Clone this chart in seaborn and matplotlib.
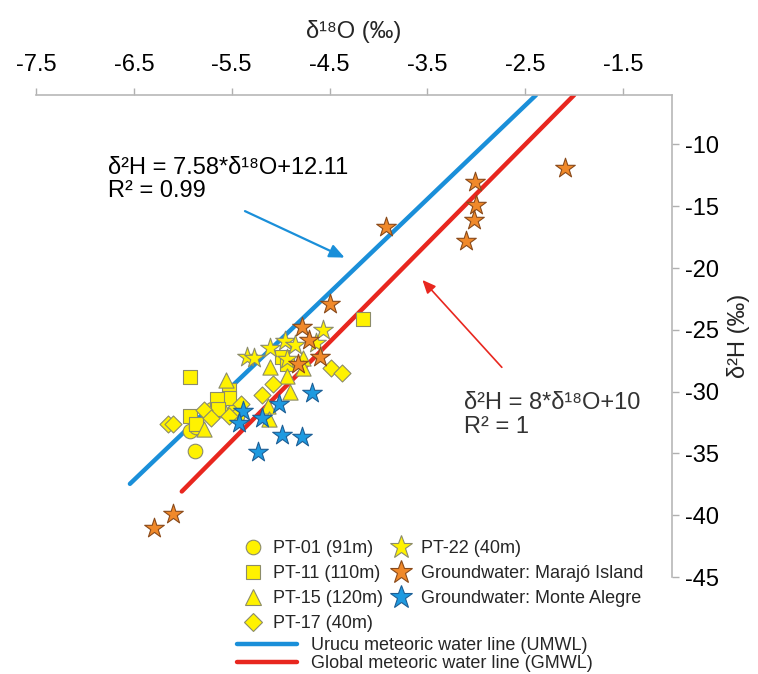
import numpy as np
import pandas as pd
import seaborn as sns
import matplotlib.pyplot as plt
from matplotlib.lines import Line2D

# --- data (delta18O, delta2H in permil) ---
pt01_x = [-5.88, -5.93, -5.86, -5.70, -5.62, -5.48, -5.45]
pt01_y = [-34.8, -33.2, -32.9, -31.4, -31.5, -31.6, -32.0]

pt11_x = [-4.16, -5.93, -4.99, -4.93, -5.53, -5.53, -5.65, -5.64, -5.93, -5.86]
pt11_y = [-24.1, -28.8, -27.2, -27.8, -29.9, -30.5, -30.6, -31.4, -32.0, -32.6]

pt15_x = [-5.56, -5.11, -4.77, -4.77, -4.93, -4.90, -5.13, -5.12, -5.78]
pt15_y = [-29.1, -28.0, -27.3, -28.1, -28.7, -30.0, -31.2, -32.2, -33.0]

pt17_x = [-4.49, -4.37, -5.08, -5.19, -5.78, -5.71, -6.15, -6.10, -5.53, -5.40]
pt17_y = [-28.1, -28.5, -29.4, -30.3, -31.5, -32.1, -32.6, -32.6, -32.0, -31.0]

pt22_x = [-4.57, -4.96, -5.11, -4.85, -4.64, -5.34, -5.27, -4.93]
pt22_y = [-25.0, -25.9, -26.5, -26.2, -26.1, -27.2, -27.3, -27.4]

marajo_x = [-2.09, -3.01, -3.00, -3.02, -3.11, -3.92, -4.50, -4.78, -4.71, -4.60, -4.82, -6.10, -6.29]
marajo_y = [-11.9, -13.0, -14.9, -16.1, -17.8, -16.7, -22.9, -24.8, -25.8, -27.2, -27.8, -39.9, -41.0]

monte_x = [-4.68, -5.02, -5.19, -5.38, -5.43, -4.99, -4.78, -5.23]
monte_y = [-30.1, -31.0, -32.1, -31.6, -32.5, -33.5, -33.7, -34.9]

# meteoric water lines: slope, intercept, x range drawn
umwl_coef = (7.58, 12.11)
umwl_range = [-6.54, -2.39]
gmwl_coef = (8.0, 10.0)
gmwl_range = [-6.01, -2.0]

groups = [
    # label, x, y, marker, size, face, edge
    ("PT-01 (91m)", pt01_x, pt01_y, "o", 110, "#FFF200", "#8c8c6a"),
    ("PT-11 (110m)", pt11_x, pt11_y, "s", 110, "#FFF200", "#8c8c6a"),
    ("PT-15 (120m)", pt15_x, pt15_y, "^", 120, "#FFF200", "#8c8c6a"),
    ("PT-17 (40m)", pt17_x, pt17_y, "D", 75, "#FFF200", "#8c8c6a"),
    ("PT-22 (40m)", pt22_x, pt22_y, "*", 220, "#FFF200", "#8c8c6a"),
    ("Groundwater: Marajó Island", marajo_x, marajo_y, "*", 220, "#F0892A", "#8a4a1a"),
    ("Groundwater: Monte Alegre", monte_x, monte_y, "*", 220, "#1E9AE0", "#1d5f96"),
]

sns.set_style("white")
plt.rcParams['font.family'] = ['Liberation Sans', 'DejaVu Sans']
plt.rcParams['axes.unicode_minus'] = False

fig = plt.figure(figsize=(7.58, 6.74), dpi=100)
ax = fig.add_axes([36 / 758, 1 - 577 / 674, 636 / 758, 482 / 674])

# lines
for coef, xr, col in [(umwl_coef, umwl_range, "#1A8FD9"), (gmwl_coef, gmwl_range, "#E8271F")]:
    lx = np.array(xr)
    line_df = pd.DataFrame({"x": lx, "y": coef[0] * lx + coef[1]})
    sns.lineplot(data=line_df, x="x", y="y", color=col, lw=3.2, ax=ax)

# points
for label, gx, gy, mk, sz, fc, ec in groups:
    df = pd.DataFrame({"x": gx, "y": gy})
    sns.scatterplot(data=df, x="x", y="y", marker=mk, s=sz, color=fc,
                    edgecolor=ec, linewidth=0.8, ax=ax, zorder=3)

ax.set_xlim(-7.5, -1.0)
ax.set_ylim(-45, -6)

ax.xaxis.tick_top()
ax.xaxis.set_label_position("top")
ax.yaxis.tick_right()
ax.yaxis.set_label_position("right")
ax.set_xticks(np.arange(-7.5, -1.4, 1.0))
ax.set_xticklabels([f"{v:.1f}" for v in np.arange(-7.5, -1.4, 1.0)])
ax.set_yticks(np.arange(-10, -46, -5))
ax.tick_params(axis="both", labelsize=17, colors="#b0b0b0", labelcolor="black",
               length=5, width=1, pad=4)
ax.tick_params(axis="x", pad=9)
for side in ["bottom", "left"]:
    ax.spines[side].set_visible(False)
for side in ["top", "right"]:
    ax.spines[side].set_color("#b8b8b8")
    ax.spines[side].set_linewidth(1.2)

ax.set_xlabel("δ¹⁸O (‰)", fontsize=17, labelpad=11)
ax.set_ylabel("δ²H (‰)", fontsize=17, rotation=90, labelpad=6)

# equations and arrows
ax.text(-6.76, -11.0, "δ²H = 7.58*δ¹⁸O+12.11\nR² = 0.99", fontsize=17,
        va="top", ha="left", color="black", linespacing=1.1)
ax.annotate("", xy=(-4.32, -19.25), xytext=(-5.39, -15.3),
            arrowprops=dict(arrowstyle="-|>,head_length=0.9,head_width=0.4", color="#1A8FD9", lw=1.6))
ax.text(-3.13, -30.0, "δ²H = 8*δ¹⁸O+10\nR² = 1", fontsize=17,
        va="top", ha="left", color="#333333", linespacing=1.15)
ax.annotate("", xy=(-3.57, -20.8), xytext=(-2.72, -28.2),
            arrowprops=dict(arrowstyle="-|>,head_length=0.8,head_width=0.35", color="#E8271F", lw=1.2))

# legends
handles = [Line2D([], [], ls="none", marker=mk, markersize=np.sqrt(sz) * (1.15 if mk == "*" else 1.0),
                  markerfacecolor=fc, markeredgecolor=ec, markeredgewidth=0.8)
           for _, _, _, mk, sz, fc, ec in groups]
labels = [g[0] for g in groups]
leg1 = fig.legend(handles, labels, ncol=2, loc="upper left", bbox_to_anchor=(244 / 758, 1 - 540 / 674),
                  frameon=False, fontsize=13, handlelength=1.0, handletextpad=0.6,
                  columnspacing=0.5, labelspacing=0.45, borderpad=0, borderaxespad=0)

line_handles = [Line2D([], [], color="#1A8FD9", lw=3.2), Line2D([], [], color="#E8271F", lw=3.2)]
line_labels = ["Urucu meteoric water line (UMWL)", "Global meteoric water line (GMWL)"]
leg2 = fig.legend(line_handles, line_labels, loc="upper left", bbox_to_anchor=(237 / 758, 1 - 637 / 674),
                  frameon=False, fontsize=13, handlelength=3.3, handletextpad=0.8,
                  labelspacing=0.05, borderpad=0, borderaxespad=0)

fig.savefig("out.png", dpi=100)
